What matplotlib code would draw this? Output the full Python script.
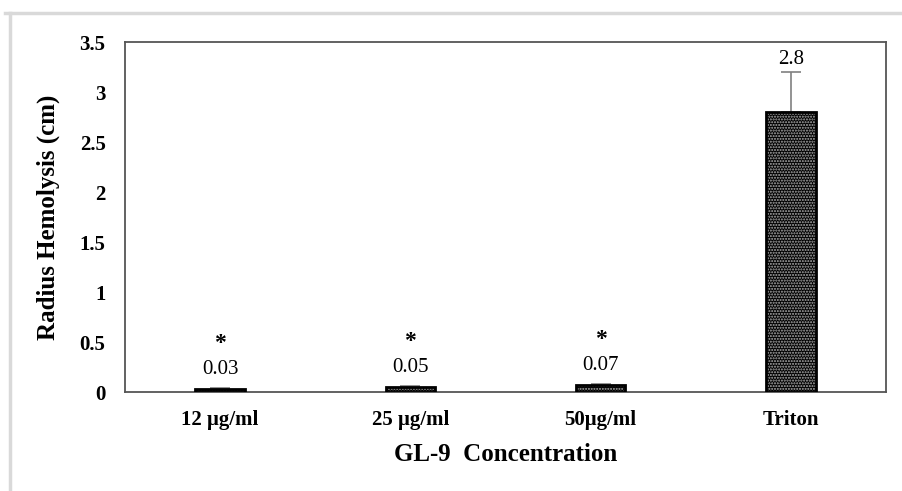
import matplotlib
matplotlib.use("Agg")
import matplotlib.pyplot as plt
from matplotlib.lines import Line2D

categories = ["12 μg/ml", "25 μg/ml", "50μg/ml", "Triton"]
values = [0.03, 0.05, 0.07, 2.8]
errors = [0.015, 0.01, 0.01, 0.4]
value_labels = ["0.03", "0.05", "0.07", "2.8"]
significant = [True, True, True, False]
yticks = [0, 0.5, 1, 1.5, 2, 2.5, 3, 3.5]
ytick_labels = ["0", "0.5", "1", "1.5", "2", "2.5", "3", "3.5"]

plt.rcParams['font.family'] = ['Liberation Serif', 'DejaVu Serif']

fig = plt.figure(figsize=(9.02, 4.91), dpi=100)
ax = fig.add_axes([125/902, 1-392/491, (886-125)/902, (392-42)/491])

x = list(range(len(categories)))
bw = 0.26
ax.bar(x, values, width=bw, color='black', edgecolor='#b0b0b0', hatch='......', linewidth=0, zorder=2)
ax.bar(x, values, width=bw, fill=False, edgecolor='black', linewidth=2, zorder=3)
ax.errorbar(x, values, yerr=[[0]*len(values), errors], fmt='none', ecolor='#808080',
            elinewidth=1.2, capsize=7, capthick=1.2, zorder=1)

for xi, v, e, lab, sig in zip(x, values, errors, value_labels, significant):
    top = v + e
    if sig:
        ax.annotate(lab, (xi, top), xytext=(0, 13), textcoords='offset points',
                    ha='center', va='center', fontsize=15)
        ax.annotate('*', (xi, top), xytext=(0, 32), textcoords='offset points',
                    ha='center', va='center', fontsize=17, fontweight='bold')
    else:
        ax.annotate(lab, (xi, top), xytext=(0, 9), textcoords='offset points',
                    ha='center', va='center', fontsize=15)

ax.set_xlim(-0.5, len(categories) - 0.5)
ax.set_ylim(0, 3.5)
ax.set_yticks(yticks)
ax.set_yticklabels(ytick_labels, fontsize=15, fontweight='bold')
ax.set_xticks(x)
ax.set_xticklabels(categories, fontsize=15, fontweight='bold')
ax.tick_params(axis='both', length=0)
ax.tick_params(axis='y', pad=14)
ax.tick_params(axis='x', pad=13)
for s in ax.spines.values():
    s.set_color('#555555')
    s.set_linewidth(1.3)

ax.set_ylabel('Radius Hemolysis (cm)', fontsize=18, fontweight='bold', labelpad=14)
ax.set_xlabel('GL-9  Concentration', fontsize=18, fontweight='bold', labelpad=9)

fig.add_artist(Line2D([10/902, 10/902], [0, 1-13/491], color='#d9d9d9', lw=2.5,
                      transform=fig.transFigure))
fig.add_artist(Line2D([5/902, 1], [1-13/491, 1-13/491], color='#d9d9d9', lw=2.5,
                      transform=fig.transFigure))

fig.savefig('out.png', dpi=100)
